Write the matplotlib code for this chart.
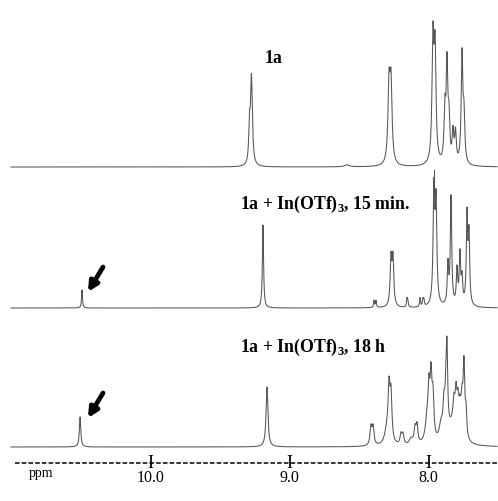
import numpy as np
import matplotlib.pyplot as plt

plt.rcParams['font.family'] = 'Liberation Serif'
plt.rcParams['mathtext.fontset'] = 'custom'
plt.rcParams['mathtext.rm'] = 'Liberation Serif'
plt.rcParams['mathtext.bf'] = 'Liberation Serif:bold'

# peak lists: shift (ppm), height, half width (ppm)
shift1  = [9.289, 9.275, 8.588, 8.285, 8.271, 7.969, 7.954, 7.883, 7.868, 7.854, 7.825, 7.807, 7.760, 7.746]
height1 = [35, 88, 2, 76, 76, 120, 108, 50, 95, 40, 30, 30, 108, 45]
width1  = [.006, .008, .02, .009, .009, .008, .008, .007, .007, .007, .007, .007, .007, .007]

shift2  = [10.494, 9.192, 8.393, 8.379, 8.271, 8.257, 8.156, 8.150, 8.062, 8.041, 8.034,
           7.962, 7.947, 7.861, 7.839, 7.796, 7.775, 7.760, 7.724, 7.710]
height2 = [18, 83, 7, 7, 47, 47, 8, 6, 9, 7, 6, 112, 98, 40, 108, 35, 50, 25, 88, 68]
width2  = [.004, .005, .004, .004, .007, .007, .004, .004, .004, .004, .004,
           .007, .007, .006, .006, .006, .006, .006, .006, .006]

shift3  = [10.508, 9.163, 8.415, 8.400, 8.300, 8.285, 8.271, 8.199, 8.185, 8.127, 8.098, 8.084,
           8.012, 7.998, 7.983, 7.969, 7.911, 7.890, 7.875, 7.868, 7.818, 7.803, 7.789,
           7.775, 7.760, 7.746, 7.731, 7.830, 7.770]
height3 = [30, 60, 18, 18, 14, 50, 45, 10, 10, 6, 15, 18,
           20, 45, 58, 40, 15, 30, 42, 68, 22, 34, 26,
           16, 28, 70, 24, 18, 10]
width3  = [.006, .008, .008, .008, .02, .008, .008, .008, .008, .015, .008, .008,
           .015, .008, .008, .008, .015, .008, .008, .006, .008, .008, .008,
           .008, .008, .007, .006, .04, .02]

labels = ['1a', r'1a + In(OTf)$_\mathbf{3}$, 15 min.', r'1a + In(OTf)$_\mathbf{3}$, 18 h']
tick_ppm = [10.0, 9.0, 8.0]
tick_text = ['10.0', '9.0', '8.0']

# layout (vertical units = pixels from bottom)
baselines = [334, 193, 54]
label_pos = [(9.177, 438), (9.357, 292), (9.357, 149)]
arrows = [((10.451, 209), (10.343, 234)), ((10.451, 83), (10.343, 108))]

def spectrum(ppm, shifts, heights, widths):
    y = np.zeros_like(ppm)
    for s, h, w in zip(shifts, heights, widths):
        y += h / (1 + ((ppm - s) / w) ** 2)
    return y

fig = plt.figure(figsize=(4.98, 5.01), dpi=100)
ax = fig.add_axes([0, 0, 1, 1])
ax.set_xlim(11.084, 7.501)
ax.set_ylim(0, 501)
ax.axis('off')

ppm = np.linspace(11.005, 7.508, 12000)
peaks = [(shift1, height1, width1), (shift2, height2, width2), (shift3, height3, width3)]
for base, (s, h, w) in zip(baselines, peaks):
    ax.plot(ppm, base + spectrum(ppm, s, h, w), color='#555555', lw=0.75)

# small reference mark under the first spectrum
ax.plot([7.962, 7.962], [321, 331], color='#555555', lw=0.75)

for (x, y), lab in zip(label_pos, labels):
    ax.text(x, y, lab, fontsize=12.8, fontweight='bold', ha='left', va='baseline')

for head, tail in arrows:
    ax.annotate('', xy=head, xytext=tail,
                arrowprops=dict(arrowstyle='-|>', color='black', lw=3.4, mutation_scale=14,
                                shrinkA=0, shrinkB=0))

# ppm axis drawn as a dashed rule with I marks
ax.plot([10.976, 7.508], [38, 38], color='black', lw=1.1, dashes=(3.0, 1.4))
for t, s in zip(tick_ppm, tick_text):
    ax.text(t, 38, 'I', fontsize=13, ha='center', va='center')
    ax.text(t, 23, s, fontsize=11.5, ha='center', va='center')
ax.text(10.789, 27, 'ppm', fontsize=10, ha='center', va='center')

plt.savefig('out.png', dpi=100)
